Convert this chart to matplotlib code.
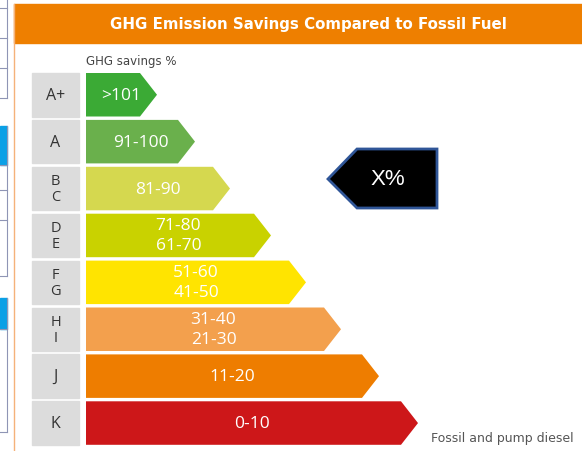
import matplotlib.pyplot as plt
from matplotlib.patches import Polygon, Rectangle

# rating classes, label ranges and arrow lengths (px from bar start)
grades = ['A+', 'A', 'B\nC', 'D\nE', 'F\nG', 'H\nI', 'J', 'K']
ranges = [['>101'], ['91-100'], ['81-90'], ['71-80', '61-70'], ['51-60', '41-50'],
          ['31-40', '21-30'], ['11-20'], ['0-10']]
bar_len = [71, 109, 144, 185, 220, 255, 293, 332]
colors = ['#3BAA35', '#6AB04C', '#D5D84F', '#C9D200', '#FFE400', '#F3A04D', '#EE7D00', '#CD1719']

title = 'GHG Emission Savings Compared to Fossil Fuel'
marker_text = 'X%'

fig = plt.figure(figsize=(5.82, 4.52), dpi=100)
ax = fig.add_axes([0, 0, 1, 1])
ax.set_xlim(0, 582)
ax.set_ylim(452, 0)
ax.axis('off')

font = 'Open Sans'
wide = 'DejaVu Sans'

# bits of the table cut off at the left edge
line_c = '#8F95B5'
for y0, y1, hl, blue in [(0, 99, [9, 39, 69, 99], None),
                         (127, 277, [166, 191, 221, 277], (127, 166)),
                         (299, 433, [330, 433], (299, 330))]:
    ax.plot([7, 7], [y0, y1], color=line_c, lw=0.8)
    for h in hl:
        ax.plot([0, 7], [h, h], color=line_c, lw=0.8)
    if blue:
        ax.add_patch(Rectangle((0, blue[0]), 7, blue[1] - blue[0], color='#0AA0E6'))

# panel frame + header
ax.plot([14, 14], [5, 452], color='#F5B27A', lw=1)
ax.add_patch(Rectangle((14, 5), 568, 39, color='#EE7F00'))
ax.text(308, 25, title, color='white', fontsize=10.8, fontweight='bold',
        family=wide, ha='center', va='center')

ax.text(86, 61, 'GHG savings %', color='#444444', fontsize=8.5, family=wide,
        ha='left', va='center')

x0 = 86
tip = 17
top = 74
pitch = 46.9
h = 43.5
for i, g in enumerate(grades):
    y = top + i * pitch
    yc = y + h / 2
    ax.add_patch(Rectangle((32, y), 47, h, color='#DCDCDC'))
    if '\n' in g:
        a, b = g.split('\n')
        ax.text(55.5, yc - 8, a, fontsize=10.5, color='#333333', family=font, ha='center', va='center')
        ax.text(55.5, yc + 8, b, fontsize=10.5, color='#333333', family=font, ha='center', va='center')
    else:
        ax.text(55.5, yc, g, fontsize=11.5, color='#333333', family=font, ha='center', va='center')
    x1 = x0 + bar_len[i]
    poly = [(x0, y), (x1 - tip, y), (x1, yc), (x1 - tip, y + h), (x0, y + h)]
    ax.add_patch(Polygon(poly, closed=True, color=colors[i], lw=0))
    xc = (x0 + x1) / 2
    lab = ranges[i]
    if len(lab) == 1:
        ax.text(xc, yc, lab[0], color='white', fontsize=12.5, family=font, ha='center', va='center')
    else:
        ax.text(xc, yc - 10, lab[0], color='white', fontsize=12.5, family=font, ha='center', va='center')
        ax.text(xc, yc + 10, lab[1], color='white', fontsize=12.5, family=font, ha='center', va='center')

ax.text(431, 439, 'Fossil and pump diesel', color='#555555', fontsize=9, family=wide,
        ha='left', va='center')

# black marker pointing left
mk = [(328, 180), (357, 150), (437, 150), (437, 209), (357, 209)]
ax.add_patch(Polygon(mk, closed=True, facecolor='black', edgecolor='#2F5597', lw=2))
ax.text(388, 180, marker_text, color='white', fontsize=16, family='Liberation Sans',
        ha='center', va='center')

fig.savefig('out.png', dpi=100)
